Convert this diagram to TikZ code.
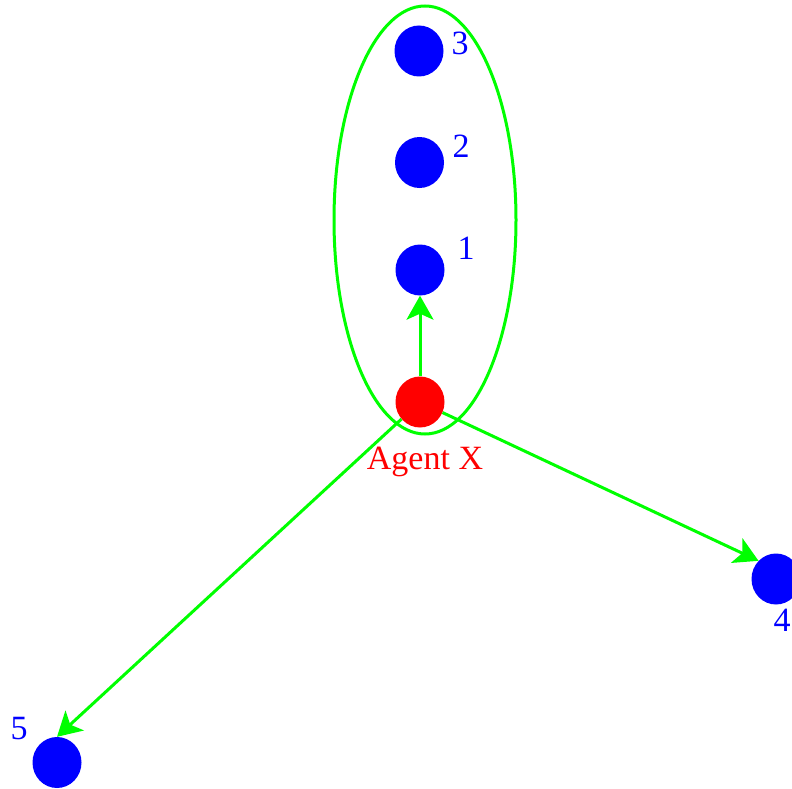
\documentclass[tikz,border=0pt]{standalone}
\usepackage{fontspec}
\setmainfont{Liberation Serif}
\usetikzlibrary{shapes.geometric,arrows.meta}
\definecolor{cblue}{RGB}{0,0,255}
\definecolor{cred}{RGB}{255,0,0}
\definecolor{cgreen}{RGB}{0,255,0}
\tikzset{
  dot/.style={ellipse, fill=#1, draw=none, minimum width=49pt, minimum height=51pt, inner sep=0pt},
  lbl/.style={text=#1, inner sep=0pt, font=\fontsize{34}{40}\selectfont},
  conn/.style={draw=cgreen, line width=3pt, -{Stealth[length=24pt, width=27pt, inset=6pt]}},
  grp/.style={ellipse, draw=cgreen, line width=3pt, minimum width=182pt, minimum height=428pt, inner sep=0pt}
}
\begin{document}
\begin{tikzpicture}[x=1pt,y=-1pt]
\useasboundingbox (0,0) rectangle (792,789);
\node[grp] (group) at (425,220) {};
\node[dot=cblue] (n3) at (419,51) {};
\node[dot=cblue] (n2) at (419.5,162.5) {};
\node[dot=cblue] (n1) at (420,270) {};
\node[dot=cred] (agent) at (420,402) {};
\node[dot=cblue] (n4) at (776,579) {};
\node[dot=cblue] (n5) at (57,762.5) {};
\node[lbl=cblue] (l3) at (460,43.5) {3};
\node[lbl=cblue] (l2) at (461,146.5) {2};
\node[lbl=cblue] (l1) at (466,248.5) {1};
\node[lbl=cblue] (l4) at (782,620) {4};
\node[lbl=cblue] (l5) at (19,729) {5};
\node[lbl=cred, anchor=base] (lx) at (425,469) {Agent X};
\draw[conn] (agent) -- (n1);
\draw[conn] (agent) -- (n4.north west);
\draw[conn] (agent) -- (n5.north);
\end{tikzpicture}
\end{document}
